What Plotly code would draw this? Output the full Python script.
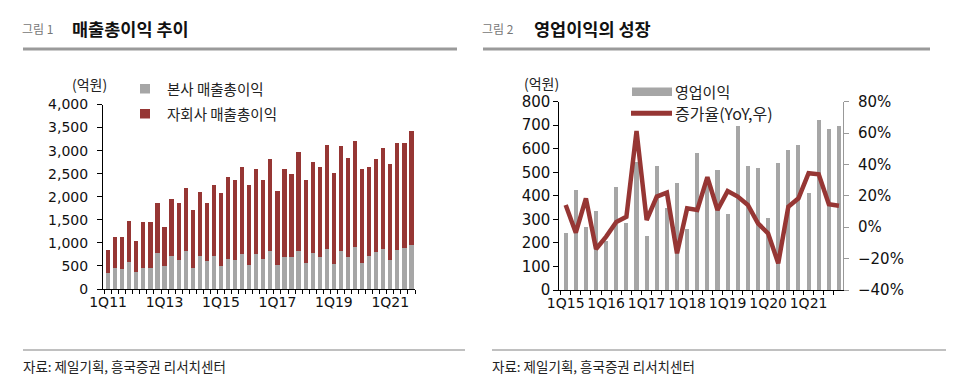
import plotly.graph_objects as go

W, H = 961, 389

# ---------------- data ----------------
quarters_left = [f"{q}Q{y:02d}" for y in range(11, 22) for q in range(1, 5)]
hq_gross = [345, 460, 432, 590, 374, 460, 460, 778, 490, 720, 626, 814, 460, 720, 598, 720,
            490, 655, 626, 756, 526, 756, 655, 814, 526, 684, 684, 814, 562, 785, 691, 878,
            533, 814, 691, 907, 562, 720, 792, 878, 626, 850, 886, 958]
sub_gross = [505, 678, 706, 893, 656, 987, 987, 1094, 864, 1224, 1246, 1382, 1246, 1375, 1274, 1534,
             1584, 1764, 1736, 1894, 1735, 1836, 1707, 1994, 1605, 1908, 1800, 2160, 1800, 1958, 1959, 2254,
             1987, 2282, 2153, 2297, 2030, 1930, 2016, 2189, 2081, 2318, 2282, 2462]

quarters_right = [f"{q}Q{y:02d}" for y in range(15, 22) for q in range(1, 5)]
op_profit = [241, 425, 266, 336, 210, 436, 286, 545, 229, 527, 350, 456, 259, 583,
             475, 510, 323, 698, 527, 520, 304, 538, 595, 615, 412, 722, 684, 697]
yoy_growth = [14.2, -3.5, 18.4, -13.9, -6.0, 3.3, 6.7, 61.3, 4.6, 19.5, 22.0, -16.6, 12.0, 11.0,
              31.9, 11.0, 23.0, 19.5, 14.2, 2.5, -3.9, -23.0, 13.1, 18.4, 34.4, 33.7, 14.6, 13.7]

left_ticks = [0, 500, 1000, 1500, 2000, 2500, 3000, 3500, 4000]
right_ticks = [0, 100, 200, 300, 400, 500, 600, 700, 800]
pct_ticks = [-40, -20, 0, 20, 40, 60, 80]
pct_labels = ["−40%", "−20%", "0%", "20%", "40%", "60%", "80%"]

GREY = "#A6A6A6"
RED = "#963634"
NUMFONT = "DejaVu Sans"
KFONT = "Noto Sans CJK KR"


def X(px):
    return px / W


def Y(py):
    return 1 - py / H


xl = list(range(len(quarters_left)))
xr = list(range(len(quarters_right)))

fig = go.Figure()
fig.add_trace(go.Bar(x=xl, y=hq_gross, name="본사 매출총이익", marker_color=GREY,
                     width=0.6, xaxis="x", yaxis="y", showlegend=False))
fig.add_trace(go.Bar(x=xl, y=sub_gross, name="자회사 매출총이익", marker_color=RED,
                     width=0.6, xaxis="x", yaxis="y", showlegend=False))
fig.add_trace(go.Bar(x=xr, y=op_profit, name="영업이익", marker_color=GREY,
                     width=0.4, xaxis="x2", yaxis="y3", showlegend=False))
fig.add_trace(go.Scatter(x=xr, y=yoy_growth, name="증가율(YoY,우)", mode="lines",
                         line=dict(color=RED, width=4.5), xaxis="x2", yaxis="y4",
                         showlegend=False))

tickfont = dict(family=NUMFONT, size=14, color="#111")

fig.update_layout(
    template="none",
    width=W, height=H, margin=dict(l=0, r=0, t=0, b=0, pad=0, autoexpand=False),
    paper_bgcolor="white", plot_bgcolor="white",
    barmode="stack", showlegend=False,
    xaxis=dict(domain=[X(103), X(415)], range=[-0.72, 43.5], showgrid=False, zeroline=False,
               automargin=False,
               showline=True, linecolor="black", linewidth=1,
               tickvals=xl[::8], ticktext=quarters_left[::8], ticks="", tickfont=tickfont,
               minor=dict(tickmode="linear", tick0=-0.5, dtick=1, ticks="outside",
                          ticklen=4, tickcolor="black", showgrid=False)),
    yaxis=dict(domain=[Y(289), Y(104.5)], range=[0, 4000], tickvals=left_ticks,
               automargin=False,
               tickformat=",d", showgrid=False, zeroline=False, showline=True,
               linecolor="black", linewidth=1, ticks="outside", ticklen=5, tickcolor="black",
               tickfont=tickfont, ticklabelstandoff=6, anchor="x"),
    xaxis2=dict(domain=[X(559.3), X(843)], range=[-0.63, 27.4], showgrid=False, zeroline=False,
                automargin=False,
                showline=True, linecolor="black", linewidth=1, anchor="y3",
                tickvals=xr[::4], ticktext=quarters_right[::4], ticks="", tickfont=tickfont,
                minor=dict(tickmode="linear", tick0=-0.5, dtick=1, ticks="outside",
                           ticklen=4, tickcolor="black", showgrid=False)),
    yaxis3=dict(domain=[Y(290), Y(101.7)], range=[0, 800], tickvals=right_ticks,
                automargin=False,
                showgrid=False, zeroline=False, showline=True, linecolor="black", linewidth=1,
                ticks="outside", ticklen=5, tickcolor="black",
                tickfont=dict(family=NUMFONT, size=15, color="#111"), anchor="x2"),
    yaxis4=dict(domain=[Y(290), Y(101.7)], range=[-40, 80], tickvals=pct_ticks,
                ticktext=pct_labels, automargin=False,
                showgrid=False, zeroline=False, showline=True,
                linecolor="#999", linewidth=1, ticks="outside", ticklen=5, tickcolor="#999",
                tickfont=dict(family=NUMFONT, size=15, color="#111"), ticklabelstandoff=6,
                overlaying="y3", side="right", anchor="x2"),
)

shapes = []
annos = []


def text(x, y, s, size, color="#111", bold=False, family=KFONT):
    annos.append(dict(x=X(x), y=Y(y), xref="paper", yref="paper", text=f"<b>{s}</b>" if bold else s,
                      showarrow=False, xanchor="left", yanchor="middle", borderpad=0,
                      font=dict(family=family, size=size, color=color)))


def hline(x0, x1, y, w, c):
    shapes.append(dict(type="line", xref="paper", yref="paper", x0=X(x0), x1=X(x1), y0=Y(y), y1=Y(y),
                       line=dict(color=c, width=w)))


def rect(x0, x1, y0, y1, c):
    shapes.append(dict(type="rect", xref="paper", yref="paper", x0=X(x0), x1=X(x1), y0=Y(y0), y1=Y(y1),
                       fillcolor=c, line=dict(width=0)))


# titles
text(21, 29, "그림 1", 12, "#777")
text(71, 29, "매출총이익 추이", 17.5, "#111", bold=True)
text(481, 29, "그림 2", 12, "#777")
text(533, 29, "영업이익의 성장", 17.5, "#111", bold=True)
hline(23, 457, 49, 3, "#9a9a9a")
hline(483, 930, 49, 3, "#9a9a9a")

# bottom source
hline(23, 465, 350, 2, "#c0c0c0")
hline(492, 946, 350, 2, "#c0c0c0")
text(22, 366, "자료: 제일기획, 흥국증권 리서치센터", 13.5, "#222")
text(491, 366, "자료: 제일기획, 흥국증권 리서치센터", 13.5, "#222")

# units
text(71, 84, "(억원)", 14, "#222")
text(523, 82.5, "(억원)", 14, "#222")

# left legend
rect(140, 150, 84, 93.5, GREY)
text(166, 88.5, "본사 매출총이익", 14.5, "#222")
rect(140, 150, 109, 118.5, RED)
text(166, 113.5, "자회사 매출총이익", 14.5, "#222")

# right legend
rect(632, 672, 87.5, 96, GREY)
text(674, 91.5, "영업이익", 15, "#222")
hline(631, 672, 113.3, 5, RED)
text(674, 113.3, "증가율(YoY,우)", 16, "#222")

fig.update_layout(shapes=shapes, annotations=annos)
fig.write_html("out.html", config={"displayModeBar": False},
               post_script="document.body.style.margin='0';document.body.style.overflow='hidden';")
